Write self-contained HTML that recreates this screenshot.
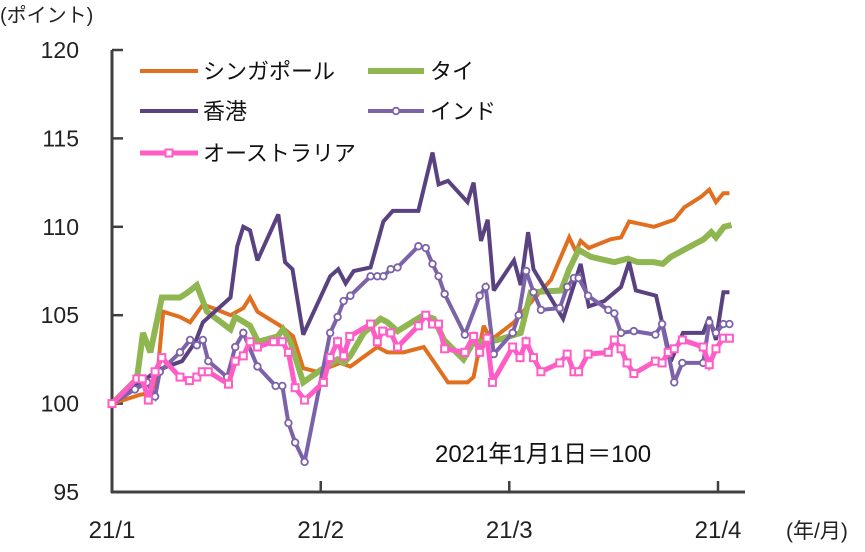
<!DOCTYPE html>
<html><head><meta charset="utf-8">
<style>
html,body{margin:0;padding:0;background:#fff;}
svg{display:block;font-family:"Liberation Sans","Noto Sans CJK JP",sans-serif;}
</style></head>
<body>
<svg id="chart" width="865" height="552" viewBox="0 0 865 552" xmlns="http://www.w3.org/2000/svg">
<g id="plot"></g>
</svg>
<script>
// days since 2021-01-01, index values (2021-01-01 = 100)
const sgDays=[0,4.2,5.7,6.7,7.6,10.1,11.6,13.5,15.0,17.6,19.5,20.5,21.6,25.0,26.9,28.4,30.5,33.9,35.4,39.4,40.9,43.3,46.3,49.9,52.8,53.7,55.2,56.3,59.7,62.6,65.2,67.9,68.9,69.6,70.8,74.1,75.6,76.8,80.5,83.5,85.0,87.5,88.7,89.7,90.8,91.7];
const sgVals=[100,100.5,100.6,101.4,105.2,104.9,104.6,105.6,105.4,105.0,105.4,106.0,105.2,104.4,103.8,102.0,101.8,102.3,102.1,103.2,102.9,102.9,103.2,101.2,101.2,101.5,104.4,103.6,104.6,105.9,107.0,109.4,108.6,109.2,108.8,109.3,109.4,110.3,110.0,110.4,111.1,111.7,112.1,111.4,111.9,111.9];
const thDays=[0,3.7,4.6,5.7,7.4,10.1,11.3,12.6,14.1,17.6,18.3,20.5,21.7,24.6,25.4,26.5,28.4,31.0,33.5,34.4,35.4,37.4,39.9,40.9,42.4,45.8,46.3,47.8,49.3,52.2,53.7,55.8,57.3,60.7,62.2,66.7,67.9,69.3,71.1,74.6,76.6,78.1,80.5,81.8,83.0,87.9,89.0,89.7,90.9,92.0];
const thVals=[100,101.4,104.0,102.9,106.0,106.0,106.3,106.7,105.2,104.2,104.9,104.4,103.5,103.8,104.2,103.5,101.2,101.9,102.5,102.3,102.7,104.0,104.8,104.6,104.1,104.9,105.0,104.8,103.6,102.5,103.5,103.5,103.6,104.0,106.3,106.4,107.6,108.7,108.3,108.0,108.2,108.0,108.0,107.9,108.3,109.3,109.7,109.4,110.0,110.1];
const hkDays=[0,3.1,5.4,6.8,8.2,10.4,12.4,13.5,17.6,18.6,19.5,20.5,21.6,24.7,25.7,26.8,28.4,32.4,33.6,34.7,35.9,38.4,40.3,41.7,45.5,47.6,48.5,49.9,52.8,53.7,54.8,55.8,56.7,59.7,60.7,61.8,62.6,67.0,69.6,70.8,73.1,75.6,76.8,77.8,80.8,83.0,84.8,87.8,88.7,89.7,90.8,91.7];
const hkVals=[100,101.0,101.5,101.9,102.1,102.4,103.5,104.6,106.0,108.9,110.0,109.8,108.1,110.7,108.0,107.6,103.9,107.2,107.6,106.8,107.5,107.7,110.3,110.9,110.9,114.2,112.4,112.6,111.4,112.5,109.2,110.4,106.4,108.1,106.7,109.7,107.6,104.8,107.9,105.5,105.8,106.6,108.0,106.4,106.1,102.4,104.0,104.0,104.9,103.6,106.3,106.3];
const inDays=[0,3.4,5.2,6.4,7.1,10.1,11.6,12.6,13.5,14.3,17.1,18.3,19.5,21.6,24.3,25.3,26.2,27.2,28.6,32.4,33.5,34.4,35.4,38.4,39.4,40.3,41.4,42.4,45.5,46.6,47.6,48.5,49.4,52.4,54.6,55.5,56.7,59.5,60.4,61.5,62.6,63.7,66.5,67.6,68.6,69.3,70.7,73.7,74.6,75.6,77.5,80.7,81.7,83.5,84.7,87.8,88.7,89.7,90.8,91.7];
const inVals=[100,100.8,101.2,100.4,101.8,102.9,103.6,103.3,103.6,102.4,101.5,103.2,104.0,102.1,101.0,101.0,98.9,97.8,96.7,104.0,104.9,105.8,106.1,107.2,107.2,107.2,107.6,107.7,108.9,108.8,107.9,107.2,106.2,103.9,106.1,106.6,102.8,104.0,105.0,107.5,106.3,105.3,105.4,106.6,107.1,107.1,106.1,105.3,105.1,104.0,104.1,103.9,104.5,101.2,102.3,102.3,104.6,104.0,104.5,104.5];
const auDays=[0,3.7,4.5,5.4,6.4,7.4,10.1,11.5,12.6,13.4,14.3,17.3,18.3,19.5,20.5,21.6,24.0,25.3,26.2,27.2,28.6,31.4,32.4,33.5,34.4,35.3,38.4,39.4,40.2,41.4,42.4,45.5,46.6,47.6,48.5,49.4,52.4,53.7,54.6,55.7,56.5,59.5,60.6,61.5,62.6,63.7,66.5,67.6,68.6,69.3,70.7,73.7,74.6,75.6,76.5,77.5,80.7,81.7,82.6,83.5,84.7,87.8,88.7,89.7,90.8,91.7];
const auVals=[100,101.4,101.4,100.2,101.8,102.6,101.5,101.3,101.5,101.8,101.8,101.1,102.4,102.7,103.5,103.2,103.5,103.5,102.9,100.9,100.2,101.2,102.6,103.5,102.7,103.8,104.5,103.5,104.1,104.0,103.2,104.4,105.0,104.5,104.5,103.1,102.9,103.8,102.9,103.7,101.2,103.2,102.6,103.5,102.6,101.8,102.3,102.8,101.8,101.8,102.8,102.9,103.6,103.1,102.3,101.7,102.4,102.3,102.9,103.1,103.6,103.2,102.2,103.1,103.7,103.7];
const yTicks=[95,100,105,110,115,120];
const xTickDays=[0,31,59,90];
const xTickLabels=["21/1","21/2","21/3","21/4"];

const NS="http://www.w3.org/2000/svg";
const g=document.getElementById('plot');
const X0=112, PX_PER_DAY=(718-112)/90;
const xs=d=>X0+d*PX_PER_DAY;
const ys=v=>492-(v-95)*(442/25);
function mk(tag,attrs,parent){const e=document.createElementNS(NS,tag);for(const k in attrs)e.setAttribute(k,attrs[k]);(parent||g).appendChild(e);return e;}

let ax=mk('line',{x1:112,y1:50,x2:112,y2:493,stroke:'#404040','stroke-width':3});


ax=mk('line',{x1:111,y1:492,x2:745,y2:492,stroke:'#404040','stroke-width':3});


yTicks.forEach(v=>{
  const t=mk('line',{x1:112,x2:123,y1:ys(v),y2:ys(v),stroke:'#404040','stroke-width':2.5});
  
  
  const l=mk('text',{x:79,y:ys(v)+8,'text-anchor':'end','font-size':23,fill:'#222'});
  l.textContent=v;
  
  
});
xTickDays.forEach((d,i)=>{
  if(i>0){const t=mk('line',{x1:xs(d),x2:xs(d),y1:492,y2:481,stroke:'#404040','stroke-width':2.5});
  
  }
  const l=mk('text',{x:xs(d),y:538,'text-anchor':'middle','font-size':24,fill:'#222'});
  l.textContent=xTickLabels[i];
  
  
});

function series(days,vals,color,w,name){
  const p=mk('polyline',{points:days.map((d,i)=>xs(d)+','+ys(vals[i])).join(' '),fill:'none',stroke:color,'stroke-width':w,'stroke-linejoin':'miter','stroke-miterlimit':3});
  
  
}
series(sgDays,sgVals,'#e0701f',4,'line-singapore');
series(thDays,thVals,'#8fb650',6,'line-thailand');
series(hkDays,hkVals,'#5a417f',4,'line-hongkong');
series(inDays,inVals,'#7c62a8',4,'line-india');
inDays.forEach((d,i)=>{
  const c=mk('circle',{cx:xs(d),cy:ys(inVals[i]),r:3.3,fill:'#fff',stroke:'#7c62a8','stroke-width':1.8});
  
  
});
series(auDays,auVals,'#ff5cc6',5,'line-australia');
auDays.forEach((d,i)=>{
  const r=mk('rect',{x:xs(d)-3.5,y:ys(auVals[i])-3.5,width:7,height:7,fill:'#fff',stroke:'#ff5cc6','stroke-width':2});
  
  
});
</script>
<svg style="position:absolute;left:0;top:0" width="865" height="552">
<text x="0" y="22" font-size="20" fill="#222">(ポイント)</text>
<text x="786" y="538" font-size="21" fill="#222">(年/月)</text>
<text x="435" y="462" font-size="24" fill="#111">2021年1月1日＝100</text>
<g font-size="22" fill="#111">
 <g>
  <line x1="140" y1="71" x2="198" y2="71" stroke="#e0701f" stroke-width="4"/>
  <text x="203" y="79">シンガポール</text></g>
 <g>
  <line x1="368" y1="71" x2="424" y2="71" stroke="#8fb650" stroke-width="6"/>
  <text x="430" y="79">タイ</text></g>
 <g>
  <line x1="140" y1="111" x2="198" y2="111" stroke="#5a417f" stroke-width="4"/>
  <text x="203" y="119">香港</text></g>
 <g>
  <line x1="368" y1="111" x2="424" y2="111" stroke="#7c62a8" stroke-width="4"/>
  <circle cx="396" cy="111" r="3.3" fill="#fff" stroke="#7c62a8" stroke-width="1.8"/>
  <text x="430" y="119">インド</text></g>
 <g>
  <line x1="140" y1="153" x2="198" y2="153" stroke="#ff5cc6" stroke-width="5"/>
  <rect x="165.5" y="149.5" width="7" height="7" fill="#fff" stroke="#ff5cc6" stroke-width="2"/>
  <text x="203" y="161">オーストラリア</text></g>
</g>
</svg>
</body></html>
